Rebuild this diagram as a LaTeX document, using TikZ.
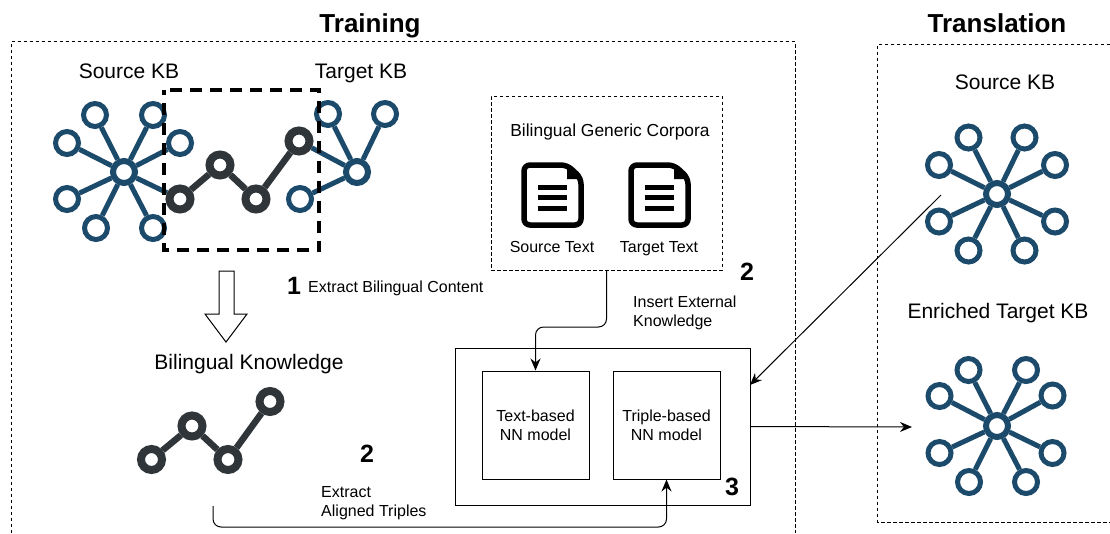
\documentclass[tikz,border=0pt]{standalone}
\usepackage{fontspec}
\setmainfont{Liberation Sans}
\usepackage{tikz}
\usetikzlibrary{arrows.meta, positioning}

\definecolor{kbblue}{HTML}{1B4A6B}
\definecolor{kbdark}{HTML}{2F3538}

\begin{document}
\begin{tikzpicture}[x=1pt,y=-1pt,on grid,>={Stealth[length=12pt,width=10pt]},
    kbleaf/.style={circle,draw=kbblue,line width=5pt,minimum size=23pt,inner sep=0pt},
    kbhub/.style={circle,draw=kbblue,line width=6pt,minimum size=22pt,inner sep=0pt},
    kbedge/.style={draw=kbblue,line width=5pt},
    darknode/.style={circle,draw=kbdark,line width=8pt,minimum size=21pt,inner sep=0pt},
    darkedge/.style={draw=kbdark,line width=6.5pt},
    thinbox/.style={draw,line width=1pt,inner sep=0pt},
    dotbox/.style={draw,line width=1pt,dash pattern=on 3.5pt off 2.5pt},
    flow/.style={draw,line width=1pt,->},
    header/.style={font=\fontsize{26}{30}\selectfont\bfseries,anchor=base},
    kbtitle/.style={font=\fontsize{21}{25}\selectfont,anchor=base},
    smalltext/.style={font=\fontsize{16}{19}\selectfont,align=left},
    stepnum/.style={font=\fontsize{25}{30}\selectfont\bfseries},
    docicon/.pic={
        \draw[line width=5.5pt,rounded corners=6pt] (3,3) -- (46,3) -- (60,16) -- (60,63) -- (3,63) -- cycle;
        \fill (46,3) -- (46,17) -- (60,17) -- cycle;
        \draw[line width=5pt] (16.5,25) -- (46,25) (16.5,35) -- (46,35) (16.5,46) -- (46,46);
    }]
    \useasboundingbox (0,0) rectangle (1110,533);

    % panels
    \node[header] (training) at (370,32) {Training};
    \node[header] (translation) at (997,32) {Translation};
    \draw[dotbox] (11,533) -- (11,41.5) -- (795,41.5) -- (795,533);
    \draw[dotbox] (1110,44) -- (877.5,44) -- (877.5,522) -- (1110,522);

    % source and target kb
    \node[kbtitle] (srctitle) at (129,78) {Source KB};
    \node[kbtitle] (tgttitle) at (361,78) {Target KB};
    \node[kbhub] (s0) at (124,172) {};
    \node[kbleaf] (s1) [above left=57pt and 29pt of s0] {};
    \node[kbleaf] (s2) [above right=57pt and 29pt of s0] {};
    \node[kbleaf] (s3) [above left=29pt and 57pt of s0] {};
    \node[kbleaf] (s4) [above right=29pt and 56pt of s0] {};
    \node[kbleaf] (s5) [below left=27pt and 57pt of s0] {};
    \node[kbleaf] (s6) [below left=56pt and 28pt of s0] {};
    \node[kbleaf] (s7) [below right=56pt and 29pt of s0] {};
    \node[kbhub] (t0) at (357,172) {};
    \node[kbleaf] (t1) [above left=58pt and 29pt of t0] {};
    \node[kbleaf] (t2) [above right=58pt and 28pt of t0] {};
    \node[kbleaf] (t3) [below left=27pt and 57pt of t0] {};

    % aligned part
    \node[darknode] (a1) at (180,199) {};
    \node[darknode] (a2) at (220,165) {};
    \node[darknode] (a3) at (256,199) {};
    \node[darknode] (a4) at (299,141) {};
    \path[kbedge] (s0) edge (s1) edge (s2) edge (s3) edge (s4) edge (s5) edge (s6) edge (s7) edge (a1);
    \path[kbedge] (t0) edge (t1) edge (t2) edge (t3) edge (a4);
    \path[darkedge] (a1) edge (a2) (a2) edge (a3) (a3) edge (a4);
    \draw[line width=4pt,dash pattern=on 12pt off 8pt] (170,89.5) -- (319,89.5) -- (319,250) -- (164,250) -- (164,89.5);

    % extraction
    \node[stepnum] (num1) at (294,286) {1};
    \node[smalltext,anchor=west] (extractlabel) at (304.7,288) {Extract Bilingual Content};
    \draw[line width=1pt] (219,271) -- (234,271) -- (234,314) -- (247,314) -- (226,342) -- (205,314) -- (219,314) -- cycle;
    \node[kbtitle] (bktitle) at (249,369) {Bilingual Knowledge};
    \node[darknode] (b1) at (151.5,459.5) {};
    \node[darknode] (b2) at (192,426) {};
    \node[darknode] (b3) at (228,459.5) {};
    \node[darknode] (b4) at (270,401.5) {};
    \path[darkedge] (b1) edge (b2) (b2) edge (b3) (b3) edge (b4);
    \node[stepnum] (num2b) at (367,454) {2};
    \node[smalltext,anchor=west] (alignedlabel) at (317.7,503) {Extract\\Aligned Triples};

    % corpora
    \node[dotbox,minimum width=231pt,minimum height=174pt] (corpora) at (606.5,183) {};
    \node[font=\fontsize{17.4}{20}\selectfont] (corporatitle) at (610,132) {Bilingual Generic Corpora};
    \pic (srcdoc) at (521,162) {docicon};
    \pic (tgtdoc) at (628,162) {docicon};
    \node[smalltext] (srctext) at (552,247) {Source Text};
    \node[smalltext] (tgttext) at (659,249) {Target Text};
    \node[stepnum] (num2a) at (747,272) {2};
    \node[smalltext,anchor=west] (insertlabel) at (629.7,313) {Insert External\\Knowledge};

    % models
    \node[thinbox,minimum width=295pt,minimum height=157pt] (engine) at (602.5,426.5) {};
    \node[thinbox,minimum width=107pt,minimum height=108pt,smalltext,align=center] (textmodel) at (535.5,425) {Text-based\\NN model};
    \node[thinbox,minimum width=107pt,minimum height=108pt,smalltext,align=center] (triplemodel) at (666.5,425) {Triple-based\\NN model};
    \node[stepnum] (num3) at (732,487) {3};

    % translation side
    \node[kbtitle] (srctitle2) at (1005,89) {Source KB};
    \node[kbhub] (u0) at (997,194) {};
    \node[kbleaf] (u1) [above left=56.5pt and 28.5pt of u0] {};
    \node[kbleaf] (u2) [above right=56.5pt and 27.5pt of u0] {};
    \node[kbleaf] (u3) [above left=29pt and 58pt of u0] {};
    \node[kbleaf] (u4) [above right=29pt and 58pt of u0] {};
    \node[kbleaf] (u5) [below left=27.5pt and 58pt of u0] {};
    \node[kbleaf] (u6) [below right=27.5pt and 58pt of u0] {};
    \node[kbleaf] (u7) [below left=56.5pt and 28.5pt of u0] {};
    \node[kbleaf] (u8) [below right=56.5pt and 27.5pt of u0] {};
    \path[kbedge] (u0) edge (u1) edge (u2) edge (u3) edge (u4) edge (u5) edge (u6) edge (u7) edge (u8);
    \node[kbtitle] (enrichedtitle) at (998,318) {Enriched Target KB};
    \node[kbhub] (v0) at (997,426) {};
    \node[kbleaf] (v1) [above left=56pt and 28.5pt of v0] {};
    \node[kbleaf] (v2) [above right=56pt and 29pt of v0] {};
    \node[kbleaf] (v3) [above left=30pt and 57.5pt of v0] {};
    \node[kbleaf] (v4) [above right=30.5pt and 55.5pt of v0] {};
    \node[kbleaf] (v5) [below left=27pt and 57.5pt of v0] {};
    \node[kbleaf] (v6) [below right=27pt and 55.5pt of v0] {};
    \node[kbleaf] (v7) [below left=56pt and 28pt of v0] {};
    \node[kbleaf] (v8) [below right=56pt and 29pt of v0] {};
    \path[kbedge] (v0) edge (v1) edge (v2) edge (v3) edge (v4) edge (v5) edge (v6) edge (v7) edge (v8);

    % connectors
    \coordinate (insertbend) at (570,327);
    \coordinate (triplestart) at (213,506);
    \coordinate (triplebend) at (440,527);
    \coordinate (srcstart) at (941,195);
    \coordinate (enginein) at (750,385);
    \coordinate (kbend) at (912,427);
    \draw[flow,rounded corners=8pt] (corpora.south) |- (insertbend) -| (textmodel.north);
    \draw[flow,rounded corners=8pt] (triplestart) |- (triplebend) -| (triplemodel.south);
    \draw[flow] (srcstart) -- (enginein);
    \draw[flow] (engine.east) -- (kbend);
\end{tikzpicture}
\end{document}
